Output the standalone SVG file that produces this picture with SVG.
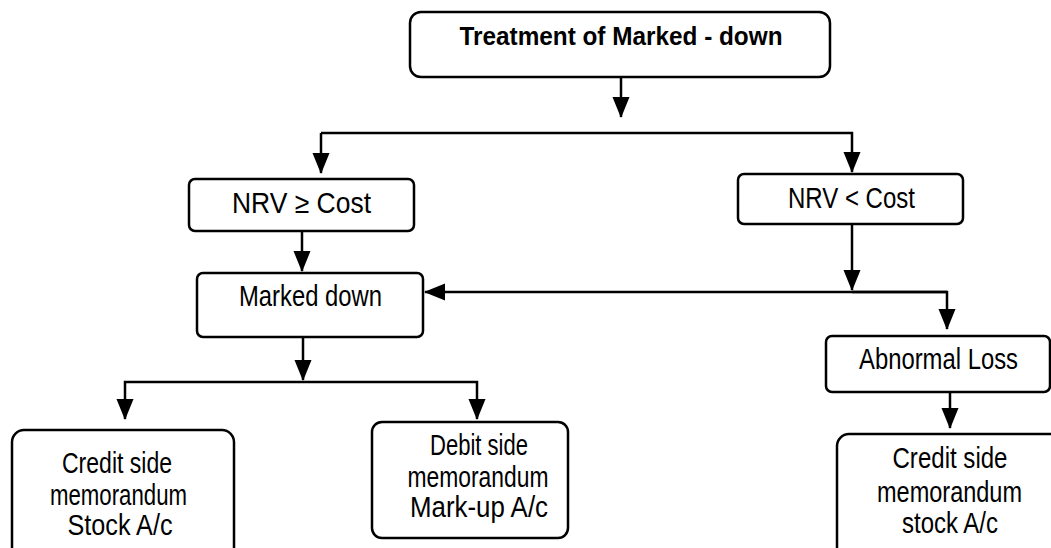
<svg xmlns="http://www.w3.org/2000/svg" width="1051" height="548" viewBox="0 0 1051 548">
<defs>
<style>
.box{fill:#fff;stroke:#000;stroke-width:2.5}
.ln{fill:none;stroke:#000;stroke-width:2.5}
text{font-family:"Liberation Sans",Arial,sans-serif;font-size:29px;fill:#000;text-anchor:middle}
.t{font-weight:bold;font-size:25px}
</style>
<marker id="ah" markerUnits="userSpaceOnUse" markerWidth="21" markerHeight="18" viewBox="0 0 21 18" refX="20" refY="9" orient="auto">
<path d="M0,0.5 L21,9 L0,17.5 Z" fill="#000"/>
</marker>
</defs>
<rect width="1051" height="548" fill="#fff"/>
<g id="connectors">
<line class="ln" x1="621" y1="77" x2="621" y2="117" marker-end="url(#ah)"/>
<polyline class="ln" points="321,133 852,133 852,172" marker-end="url(#ah)"/>
<line class="ln" x1="321" y1="133" x2="321" y2="173" marker-end="url(#ah)"/>
<line class="ln" x1="302" y1="231" x2="302" y2="271" marker-end="url(#ah)"/>
<line class="ln" x1="852" y1="224" x2="852" y2="290" marker-end="url(#ah)"/>
<polyline class="ln" points="947,292 425,292" marker-end="url(#ah)"/>
<polyline class="ln" points="852,292 947,292 947,329" marker-end="url(#ah)"/>
<line class="ln" x1="303" y1="337" x2="303" y2="380" marker-end="url(#ah)"/>
<polyline class="ln" points="303,382 477,382 477,419" marker-end="url(#ah)"/>
<polyline class="ln" points="303,382 125,382 125,419" marker-end="url(#ah)"/>
<line class="ln" x1="950" y1="392" x2="950" y2="428" marker-end="url(#ah)"/>
</g>
<g id="n-title">
<rect class="box" x="410" y="12" width="420" height="65" rx="11"/>
<text class="t" x="621" y="45" textLength="323" lengthAdjust="spacingAndGlyphs">Treatment of Marked - down</text>
</g>
<g id="n-nrv-ge">
<rect class="box" x="189" y="179" width="225" height="52" rx="6"/>
<text x="301.5" y="213" textLength="139" lengthAdjust="spacingAndGlyphs">NRV ≥ Cost</text>
</g>
<g id="n-nrv-lt">
<rect class="box" x="738" y="174" width="225" height="50" rx="6"/>
<text x="851.5" y="208" textLength="127" lengthAdjust="spacingAndGlyphs">NRV &lt; Cost</text>
</g>
<g id="n-marked">
<rect class="box" x="197" y="273" width="226" height="64" rx="6"/>
<text x="310.5" y="306" textLength="143" lengthAdjust="spacingAndGlyphs">Marked down</text>
</g>
<g id="n-abnormal">
<rect class="box" x="826" y="336" width="224" height="56" rx="6"/>
<text x="938.5" y="369" textLength="159" lengthAdjust="spacingAndGlyphs">Abnormal Loss</text>
</g>
<g id="n-credit-left">
<rect class="box" x="12" y="430" width="222" height="140" rx="12"/>
<text x="117" y="473" textLength="110" lengthAdjust="spacingAndGlyphs">Credit side</text>
<text x="118.5" y="505" textLength="137" lengthAdjust="spacingAndGlyphs">memorandum</text>
<text x="120" y="535" textLength="105" lengthAdjust="spacingAndGlyphs">Stock A/c</text>
</g>
<g id="n-debit">
<rect class="box" x="372" y="422" width="196" height="116" rx="10"/>
<text x="479" y="455" textLength="98" lengthAdjust="spacingAndGlyphs">Debit side</text>
<text x="478" y="487" textLength="141" lengthAdjust="spacingAndGlyphs">memorandum</text>
<text x="479" y="517" textLength="138" lengthAdjust="spacingAndGlyphs">Mark-up A/c</text>
</g>
<g id="n-credit-right">
<rect class="box" x="837" y="434" width="240" height="140" rx="12"/>
<text x="950" y="468" textLength="115" lengthAdjust="spacingAndGlyphs">Credit side</text>
<text x="949.5" y="502" textLength="145" lengthAdjust="spacingAndGlyphs">memorandum</text>
<text x="950" y="533" textLength="96" lengthAdjust="spacingAndGlyphs">stock A/c</text>
</g>
</svg>
